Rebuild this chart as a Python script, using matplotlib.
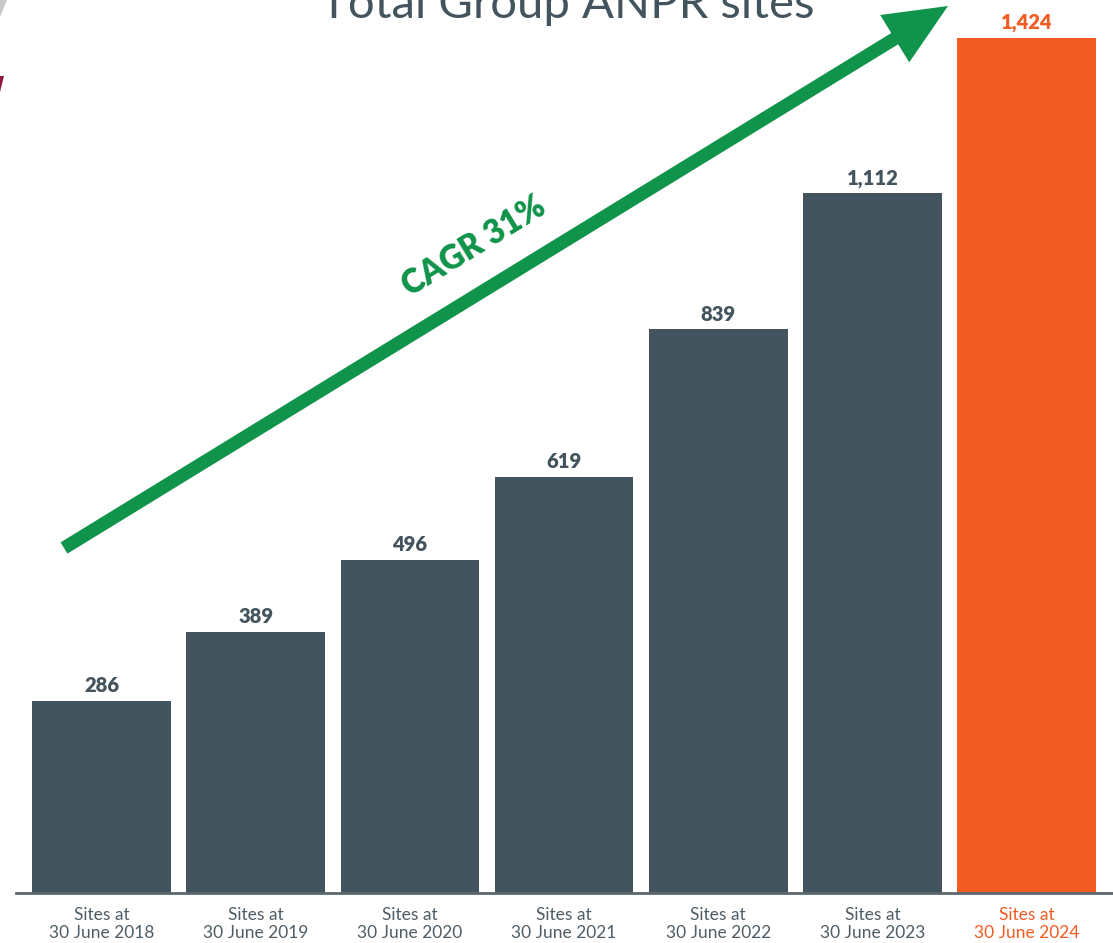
import numpy as np
import matplotlib
matplotlib.use("Agg")
import matplotlib.pyplot as plt
from matplotlib.patches import Polygon, FancyArrowPatch

# data
categories = ["Sites at\n30 June 2018", "Sites at\n30 June 2019", "Sites at\n30 June 2020",
              "Sites at\n30 June 2021", "Sites at\n30 June 2022", "Sites at\n30 June 2023",
              "Sites at\n30 June 2024"]
sites = [286, 389, 496, 619, 839, 1112, 1424]
value_labels = ["286", "389", "496", "619", "839", "1,112", "1,424"]

DARK = "#43545e"
ORANGE = "#f25c22"
GREEN = "#10934a"
GREY_TXT = "#4f5d66"

# the original chart squeezes the tallest bars, so use a scale with a knee
KNEE = 840
SQUEEZE = 0.74

def fwd(v):
    v = np.asarray(v, dtype=float)
    return np.where(v <= KNEE, v, KNEE + (v - KNEE) * SQUEEZE)

def inv(u):
    u = np.asarray(u, dtype=float)
    return np.where(u <= KNEE, u, KNEE + (u - KNEE) / SQUEEZE)

plt.rcParams['font.family'] = ['Lato', 'DejaVu Sans']

fig = plt.figure(figsize=(11.13, 9.43), dpi=100)
ax = fig.add_axes([16 / 1113, 1 - 893 / 943, 1 - 16 / 1113, 893 / 943])
ax.set_yscale('function', functions=(fwd, inv))

x = np.arange(len(sites))
colors = [DARK] * (len(sites) - 1) + [ORANGE]
bars = ax.bar(x, sites, width=0.9, color=colors, zorder=2)

ax.set_xlim(-0.555, 6.56)
ax.set_ylim(0, float(inv(893 / 855 * fwd(1424))))

for b, lab, c in zip(bars, value_labels, colors):
    ax.annotate(lab, (b.get_x() + b.get_width() / 2, b.get_height()),
                xytext=(0, 4), textcoords='offset points', ha='center', va='bottom',
                fontsize=14.5, fontweight='heavy', color=c)

ax.set_xticks(x)
ax.set_xticklabels(categories, fontsize=12.5, color=GREY_TXT, linespacing=1.2)
for t, c in zip(ax.get_xticklabels(), colors):
    if c == ORANGE:
        t.set_color(ORANGE)
ax.tick_params(axis='x', length=0, pad=10)
ax.set_yticks([])
for s in ['top', 'right', 'left']:
    ax.spines[s].set_visible(False)
ax.spines['bottom'].set_color('#5b6870')
ax.spines['bottom'].set_linewidth(2)
ax.spines['bottom'].set_zorder(3)

# title, partly cut off at the top like the source
fig.text(567 / 1113, 1 - 18 / 943, "Total Group ANPR sites", ha='center', va='baseline',
         fontsize=34, fontweight='normal', color=DARK)

# growth arrow
fig.add_artist(FancyArrowPatch(
    (64 / 1113, 1 - 548 / 943), (948 / 1113, 1 - 6 / 943),
    transform=fig.transFigure, arrowstyle='simple,head_width=4.0,head_length=4.5,tail_width=0.95',
    mutation_scale=10, color=GREEN, lw=0, shrinkA=0, shrinkB=0))
fig.text(474 / 1113, 1 - 246 / 943, "CAGR 31%", ha='center', va='center', rotation=31.5,
         rotation_mode='anchor', fontsize=23.5, fontweight='heavy', color=GREEN)

# slivers of logo at the left edge
fig.add_artist(Polygon([(0, 1), (7 / 1113, 1), (0, 1 - 17 / 943)], closed=True,
                       transform=fig.transFigure, color='#c9c9c9', lw=0))
fig.add_artist(Polygon([(0, 1 - 76 / 943), (4 / 1113, 1 - 76 / 943), (0, 1 - 92 / 943)],
                       closed=True, transform=fig.transFigure, color='#8e1b3e', lw=0))

fig.savefig("out.png", dpi=100)
